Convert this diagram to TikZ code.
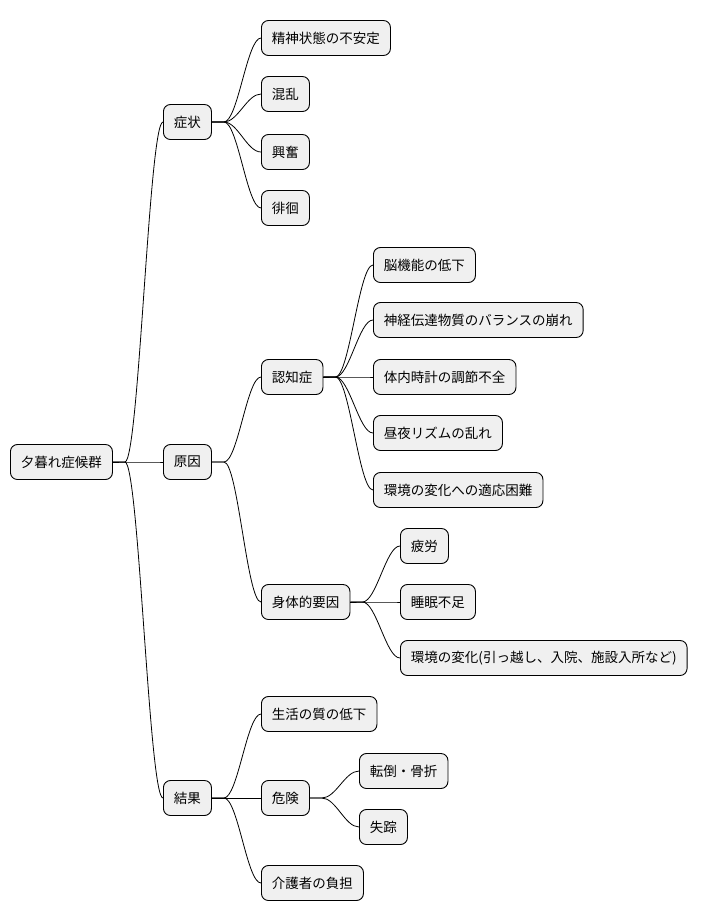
\documentclass[tikz,border=0pt]{standalone}
\usepackage{fontspec}
\setmainfont{Noto Sans CJK JP}
\usetikzlibrary{calc}
\begin{document}
\begin{tikzpicture}[x=1pt,y=-1pt,
  box/.style={draw=black,line width=0.9pt,fill=black!6,rounded corners=7pt,minimum height=35,inner xsep=10.5,anchor=west,font=\fontsize{13.5}{16}\selectfont},
  link/.style={line width=0.8pt,draw=black}]
\useasboundingbox (0,0) rectangle (709,921);
\node[box] (r) at (10,462) {夕暮れ症候群};
\node[box] (a) at (163,122) {症状};
\node[box] (b) at (163,462) {原因};
\node[box] (c) at (163,798) {結果};
\node[box] (a1) at (261,38) {精神状態の不安定};
\node[box] (a2) at (261,94) {混乱};
\node[box] (a3) at (261,152) {興奮};
\node[box] (a4) at (261,208) {徘徊};
\node[box] (b1) at (261,377) {認知症};
\node[box] (b2) at (261,602) {身体的要因};
\node[box] (b11) at (373,265) {脳機能の低下};
\node[box] (b12) at (373,320) {神経伝達物質のバランスの崩れ};
\node[box] (b13) at (373,377) {体内時計の調節不全};
\node[box] (b14) at (373,433) {昼夜リズムの乱れ};
\node[box] (b15) at (373,490) {環境の変化への適応困難};
\node[box] (b21) at (400,546) {疲労};
\node[box] (b22) at (400,602) {睡眠不足};
\node[box] (b23) at (400,658) {環境の変化(引っ越し、入院、施設入所など)};
\node[box] (c1) at (261,714) {生活の質の低下};
\node[box] (c2) at (261,798) {危険};
\node[box] (c21) at (359,771) {転倒・骨折};
\node[box] (c22) at (359,827) {失踪};
\node[box] (c3) at (261,883) {介護者の負担};
\foreach \p/\c in {r/a,r/b,r/c,a/a1,a/a2,a/a3,a/a4,b/b1,b/b2,b1/b11,b1/b12,b1/b13,b1/b14,b1/b15,b2/b21,b2/b22,b2/b23,c/c1,c/c2,c/c3,c2/c21,c2/c22}{
  \draw[link] (\p.east) -- ++(12,0) coordinate (s)
    .. controls ($(s)+(14,0)$) and ($(\c.west)+(-14,0)$) .. (\c.west);
}
\end{tikzpicture}
\end{document}
